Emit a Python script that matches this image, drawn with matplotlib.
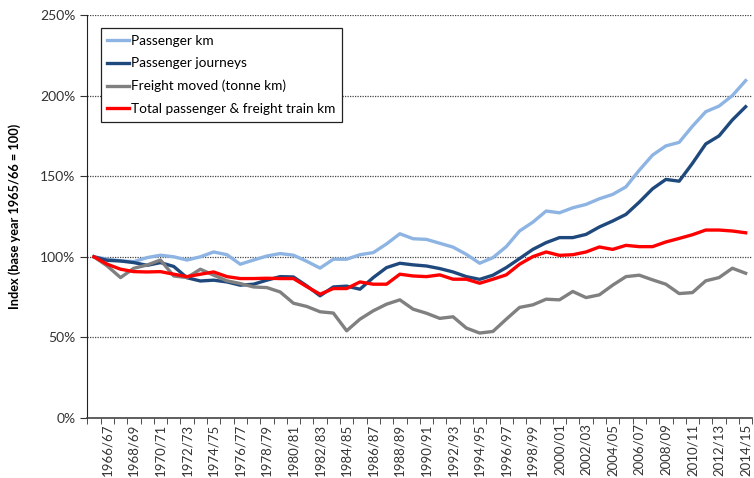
import numpy as np
import matplotlib
matplotlib.use("Agg")
import matplotlib.pyplot as plt

plt.rcParams['font.family'] = ['Lato', 'DejaVu Sans']

# --- Years: base year 1965/66 then 1966/67 .. 2014/15 ---
years = [f"{y}/{str(y + 1)[-2:]}" for y in range(1965, 2015)]

# --- Index values (1965/66 = 100) ---
passenger_km = [
    100, 98.5, 97.5, 97.0, 99.5, 101.0, 100.0, 98.0, 100.0, 103.0,
    101.3, 95.4, 98.0, 100.5, 102.0, 101.0, 97.2, 93.0, 98.5, 98.5,
    101.3, 102.6, 108.0, 114.3, 111.2, 110.8, 108.4, 106.0, 101.5, 96.0,
    99.5, 106.3, 116.0, 121.5, 128.4, 127.3, 130.4, 132.5, 136.0, 138.7,
    143.4, 153.7, 163.1, 168.8, 171.0, 181.0, 190.0, 193.5, 200.0, 209.3,
]
passenger_journeys = [
    100, 97.8, 97.4, 96.4, 94.7, 96.4, 94.0, 87.0, 85.0, 85.5,
    84.4, 82.4, 83.0, 85.5, 87.7, 87.5, 82.0, 75.8, 81.3, 81.8,
    79.9, 87.1, 93.3, 96.0, 95.0, 94.3, 92.7, 90.6, 87.7, 86.0,
    88.6, 93.3, 98.9, 104.6, 108.8, 111.9, 111.9, 113.9, 118.5, 122.2,
    126.3, 133.9, 142.2, 148.0, 146.9, 158.0, 170.0, 175.0, 184.9, 193.1,
]
freight_tonne_km = [
    100, 94.3, 87.1, 92.9, 94.9, 98.0, 88.1, 87.1, 92.3, 88.6,
    85.1, 83.4, 81.3, 80.9, 78.2, 71.2, 69.2, 65.9, 65.1, 54.1,
    61.3, 66.5, 70.6, 73.3, 67.5, 65.0, 61.8, 62.8, 55.8, 52.7,
    53.7, 61.3, 68.6, 70.2, 73.7, 73.3, 78.5, 74.7, 76.4, 82.4,
    87.7, 88.6, 85.7, 83.0, 77.2, 77.8, 85.1, 87.1, 92.9, 89.8,
]
train_km = [
    100, 95.4, 92.3, 90.8, 90.6, 90.8, 89.2, 87.7, 89.2, 90.6,
    87.7, 86.5, 86.5, 86.7, 86.5, 86.5, 81.5, 76.8, 80.3, 80.3,
    84.4, 83.0, 83.0, 89.2, 88.1, 87.7, 88.8, 86.1, 86.1, 83.6,
    86.1, 88.8, 95.4, 100.1, 103.0, 100.9, 101.3, 103.0, 106.1, 104.6,
    107.1, 106.3, 106.3, 109.2, 111.4, 113.7, 116.6, 116.6, 116.0, 114.9,
]

series = [
    ("Passenger km", passenger_km, "#8DB4E2"),
    ("Passenger journeys", passenger_journeys, "#1F497D"),
    ("Freight moved (tonne km)", freight_tonne_km, "#808080"),
    ("Total passenger & freight train km", train_km, "#FF0000"),
]

fig = plt.figure(figsize=(7.54, 4.78), dpi=100)
ax = fig.add_axes([87.3 / 754, 60 / 478, 665 / 754, 403 / 478])

x = np.arange(len(years))
for name, vals, col in series:
    ax.plot(x, vals, color=col, lw=2.4, label=name, solid_joinstyle='round')

# --- Axes styling (Excel look) ---
ax.set_xlim(-0.5, len(years) - 0.5)
ax.set_ylim(0, 250)
ax.set_yticks(np.arange(0, 251, 50))
ax.set_yticklabels([f"{v}%" for v in range(0, 251, 50)], fontsize=10, color='#333333')
ax.yaxis.grid(True, color='#444444', ls=(0, (1, 1)), lw=0.9)
ax.set_axisbelow(True)

ax.set_xticks(x[1::2])
ax.set_xticklabels(years[1::2], rotation=90, fontsize=9.5, color='#333333')
ax.set_xticks(np.arange(-0.5, len(years), 1), minor=True)
ax.tick_params(axis='x', which='major', length=0, pad=4)
ax.tick_params(axis='x', which='minor', length=4, direction='out', color='#333333')
ax.tick_params(axis='y', length=5, direction='out', color='#333333')

for s in ['top', 'right']:
    ax.spines[s].set_visible(False)
ax.spines['left'].set_color('#222222')
ax.spines['bottom'].set_color('#444444')
ax.spines['bottom'].set_linewidth(1.2)

ax.set_ylabel('Index (base year 1965/66 = 100)', fontsize=9.2, fontweight='bold', labelpad=14)

leg = ax.legend(loc='upper left', bbox_to_anchor=(0.02, 0.968), fontsize=9.8,
                frameon=True, fancybox=False, edgecolor='#222222', framealpha=1,
                handlelength=1.55, handletextpad=0.15, labelspacing=0.78,
                borderpad=0.5, borderaxespad=0)
leg.get_frame().set_linewidth(0.9)

fig.savefig('out.png', dpi=100)
